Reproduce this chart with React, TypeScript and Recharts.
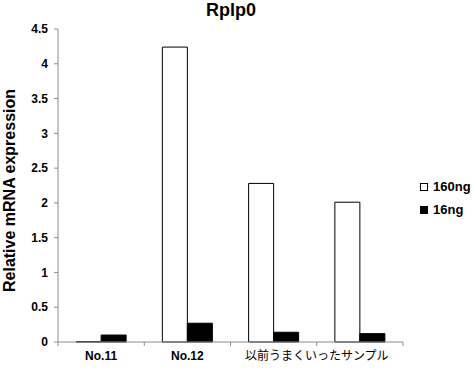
import React from 'react';
import { BarChart, Bar, XAxis, YAxis, Label } from 'recharts';

const categories = ['No.11', 'No.12', '以前うまくいったサンプル', ''];
const series160 = [0.005, 4.24, 2.28, 2.01];
const series16 = [0.1, 0.27, 0.14, 0.12];
const yTicks = [0, 0.5, 1, 1.5, 2, 2.5, 3, 3.5, 4, 4.5];

const W = 475;
const H = 369;
const margin = { top: 29, right: 72, bottom: 0, left: 0 };
const Y_AXIS_W = 58;
const X_AXIS_H = 27;
const PLOT_W = W - margin.left - margin.right - Y_AXIS_W;
const BAND = PLOT_W / categories.length;

const FONT = '"Liberation Sans", Arial, "Noto Sans CJK JP", sans-serif';
const AXIS_GREY = '#8c8c8c';

const data = categories.map((c, i) => ({
  name: c,
  ng160: series160[i],
  ng16: series16[i],
}));

const legendItems = [
  { label: '160ng', fill: '#ffffff' },
  { label: '16ng', fill: '#000000' },
];

function XTick(props: any) {
  const { x, y, payload, index } = props;
  const isLong = payload.value.length > 6;
  const left = x - BAND / 2;
  return (
    <g>
      <line x1={left} y1={y} x2={left} y2={y + 4} stroke={AXIS_GREY} />
      {index === categories.length - 1 && (
        <line x1={x + BAND / 2} y1={y} x2={x + BAND / 2} y2={y + 4} stroke={AXIS_GREY} />
      )}
      <text
        x={isLong ? x + BAND / 2 : x}
        y={y + 18}
        textAnchor="middle"
        fontSize={12}
        fontWeight={isLong ? 'normal' : 'bold'}
        fontFamily={FONT}
        fill="#000"
      >
        {payload.value}
      </text>
    </g>
  );
}

function YLabel(props: any) {
  const vb = props.viewBox || { x: 0, y: 0, width: 0, height: 0 };
  const cx = vb.x + 9;
  const cy = vb.y + vb.height / 2 + 5;
  return (
    <text
      x={cx}
      y={cy}
      transform={`rotate(-90, ${cx}, ${cy})`}
      textAnchor="middle"
      dominantBaseline="central"
      fontSize={16}
      fontWeight="bold"
      fontFamily={FONT}
      fill="#000"
    >
      Relative mRNA expression
    </text>
  );
}

export default function App() {
  return (
    <div style={{ position: 'absolute', left: 0, top: 0, width: W, height: H, background: '#fff', fontFamily: FONT }}>
      <div
        style={{
          position: 'absolute',
          left: 0,
          top: 0,
          width: 462,
          textAlign: 'center',
          fontSize: 18,
          fontWeight: 'bold',
          lineHeight: '20px',
        }}
      >
        Rplp0
      </div>
      <BarChart width={W} height={H} data={data} margin={margin} barCategoryGap="21%" barGap={0}>
        <XAxis
          dataKey="name"
          height={X_AXIS_H}
          axisLine={{ stroke: AXIS_GREY }}
          tickLine={false}
          tickSize={0}
          tickMargin={0}
          interval={0}
          tick={<XTick />}
        />
        <YAxis
          width={Y_AXIS_W}
          domain={[0, 4.5]}
          ticks={yTicks}
          interval={0}
          axisLine={{ stroke: AXIS_GREY }}
          tickLine={{ stroke: AXIS_GREY }}
          tickSize={4}
          tickMargin={6}
          tick={{ fill: '#000', fontSize: 12, fontWeight: 'bold', fontFamily: FONT }}
        >
          <Label content={<YLabel />} />
        </YAxis>
        <Bar dataKey="ng160" fill="#ffffff" stroke="#000" strokeWidth={1} isAnimationActive={false} />
        <Bar dataKey="ng16" fill="#000000" stroke="#000" strokeWidth={1} isAnimationActive={false} />
      </BarChart>
      <div style={{ position: 'absolute', left: 420, top: 175, fontSize: 13, fontWeight: 'bold' }}>
        {legendItems.map((it) => (
          <div key={it.label} style={{ display: 'flex', alignItems: 'center', height: 23 }}>
            <span
              style={{
                display: 'inline-block',
                width: 6,
                height: 6,
                border: '1px solid #000',
                background: it.fill,
                marginRight: 5,
              }}
            />
            {it.label}
          </div>
        ))}
      </div>
    </div>
  );
}
